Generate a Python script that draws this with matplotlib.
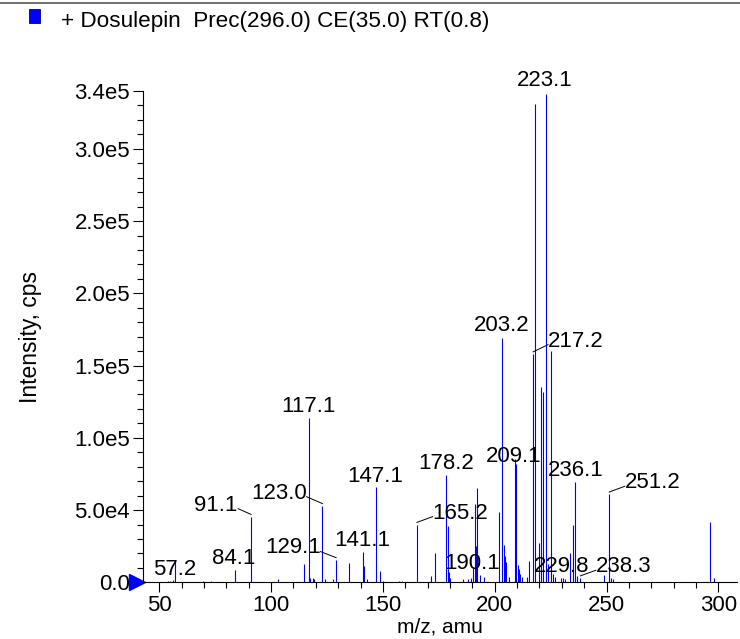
import numpy as np
import matplotlib
matplotlib.use("Agg")
import matplotlib.pyplot as plt
from matplotlib.patches import Rectangle
from matplotlib.lines import Line2D

plt.rcParams['font.family'] = ['Liberation Sans', 'DejaVu Sans']

# MS/MS spectrum of dosulepin, peaks (m/z, cps)
mz = [54.0, 55.0, 56.0, 57.2, 69.7, 73.0, 84.1, 91.1, 103.1,
      114.9, 117.1, 117.6, 118.7, 119.3, 123.0, 124.1, 127.9, 129.1,
      134.7, 141.1, 141.7, 143.0, 147.1, 148.6, 150.2, 157.1, 158.6,
      165.2, 171.7, 173.2, 178.2, 179.0, 179.6, 180.2, 186.0, 188.0,
      189.6, 190.1, 191.0, 191.5, 192.0, 193.5, 195.0,
      202.1, 203.2, 204.1, 204.6, 205.1, 206.5, 209.1, 209.7,
      210.6, 211.0, 211.5, 212.0, 214.5, 215.5, 217.2, 218.1, 219.6,
      220.9, 221.7, 223.1, 224.0, 225.1, 226.0, 227.0, 229.8, 230.5,
      231.5, 233.6, 235.0, 236.1, 237.0, 238.3, 249.1, 251.2, 252.0,
      253.0, 296.1, 297.9]
inten = [1.0e3, 1.2e3, 1.5e3, 1.44e4, 1.0e3, 1.0e3, 8.4e3, 4.55e4, 2.0e3,
         1.3e4, 1.14e5, 3.0e3, 3.0e3, 2.5e3, 5.3e4, 2.0e3, 2.0e3, 1.56e4,
         1.37e4, 2.11e4, 1.1e4, 2.0e3, 6.58e4, 8.0e3, 1.0e3, 1.0e3, 1.0e3,
         4.0e4, 4.7e3, 2.0e4, 7.43e4, 3.9e4, 7.0e3, 3.0e3, 2.0e3, 2.0e3,
         3.0e3, 1.0e4, 5.4e4, 2.5e4, 6.5e4, 5.0e3, 4.0e3,
         4.9e4, 1.69e5, 2.6e4, 1.8e4, 1.4e4, 4.0e3, 8.54e4, 8.17e4,
         1.2e4, 9.0e3, 6.0e3, 4.0e3, 4.0e3, 1.5e4, 1.58e5, 3.31e5, 2.7e4,
         1.35e5, 1.32e5, 3.38e5, 1.3e4, 1.6e5, 6.0e3, 4.0e3, 3.0e3, 3.0e3,
         2.0e3, 2.0e4, 3.98e4, 6.93e4, 4.7e3, 3.0e3, 5.0e3, 6.1e4, 3.0e3,
         2.0e3, 4.17e4, 3.0e3]

# labelled peaks: text, peak m/z, peak height
lab_text = ['57.2', '84.1', '91.1', '117.1', '123.0', '129.1', '141.1', '147.1',
            '165.2', '178.2', '190.1', '203.2', '209.1', '217.2', '223.1',
            '229.8', '236.1', '238.3', '251.2']
lab_mz = [57.2, 84.1, 91.1, 117.1, 123.0, 129.1, 141.1, 147.1,
          165.2, 178.2, 190.1, 203.2, 209.1, 217.2, 223.1,
          229.8, 236.1, 238.3, 251.2]
lab_int = [1.44e4, 8.4e3, 4.55e4, 1.14e5, 5.3e4, 1.56e4, 2.11e4, 6.58e4,
           4.0e4, 7.43e4, 1.0e4, 1.69e5, 8.54e4, 1.58e5, 3.38e5,
           3.0e3, 6.93e4, 3.0e3, 6.1e4]
# where the label text sits (data coords) and whether a leader line is drawn
lab_x = [56.7, 83.45, 75.4, 116.7, 103.5, 109.8, 140.9, 146.5,
         184.6, 178.2, 190.0, 203.1, 208.7, 236.2, 222.6,
         229.8, 236.1, 257.6, 270.5]
lab_y = [8.9e3, 1.64e4, 5.35e4, 1.22e5, 6.18e4, 2.38e4, 2.93e4, 7.36e4,
         4.8e4, 8.26e4, 1.34e4, 1.78e5, 8.7e4, 1.67e5, 3.47e5,
         1.09e4, 7.77e4, 1.09e4, 6.9e4]
leader = [False, False, True, False, True, True, False, False,
          True, False, False, False, False, True, False,
          False, False, True, True]

fig = plt.figure(figsize=(7.4, 6.39), dpi=100)
ax = fig.add_axes([0.1928, 0.0886, 0.8027, 0.769])

ax.vlines(mz, 0, inten, color='#0000ff', linewidth=0.8)

ax.set_xlim(42.6, 308.2)
ax.set_ylim(0, 3.4e5)

ax.set_xticks(np.arange(50, 301, 50))
ax.set_xticks(np.arange(50, 310, 10), minor=True)
yt = [0, 5e4, 1e5, 1.5e5, 2e5, 2.5e5, 3e5, 3.4e5]
ax.set_yticks(yt)
ax.set_yticklabels(['0.0', '5.0e4', '1.0e5', '1.5e5', '2.0e5', '2.5e5', '3.0e5', '3.4e5'])
ax.set_yticks(np.arange(0, 3.41e5, 1e4), minor=True)
ax.tick_params(axis='both', which='major', direction='out', length=7, width=0.8,
               labelsize=16, pad=2)
ax.tick_params(axis='both', which='minor', direction='out', length=4, width=0.8)
ax.spines['top'].set_visible(False)
ax.spines['right'].set_visible(False)

ax.set_xlabel('m/z, amu', fontsize=15, labelpad=1)
ax.set_ylabel('Intensity, cps', fontsize=16.5, labelpad=23)

for i in range(len(lab_text)):
    ax.text(lab_x[i], lab_y[i], lab_text[i], fontsize=16, ha='center', va='center',
            clip_on=False)
    if leader[i]:
        # short leader from the near edge of the label to the peak top
        if lab_x[i] < lab_mz[i]:
            x0 = lab_x[i] + 2.6 * len(lab_text[i]) * 0.95
        else:
            x0 = lab_x[i] - 2.6 * len(lab_text[i]) * 0.95
        ax.plot([x0, lab_mz[i]], [lab_y[i] - 2.5e3, lab_int[i] + 1.5e3],
                color='black', linewidth=0.7)

# blue marker at the zero level on the left
ax.plot([-0.009], [0], marker='>', markersize=11, color='#0000ff',
        transform=ax.get_yaxis_transform(), clip_on=False)

# header line, legend box and title text
fig.add_artist(Line2D([0, 1], [0.996, 0.996], color='#555555', linewidth=1.2))
fig.add_artist(Rectangle((29 / 740, 1 - 23 / 639), 11 / 740, 14 / 639,
                         facecolor='#0000ff', edgecolor='#000080', linewidth=0.6))
fig.text(61 / 740, 1 - 22 / 639, '+ Dosulepin  Prec(296.0) CE(35.0) RT(0.8)',
         fontsize=16.2, va='center', ha='left')

fig.savefig('out.png', dpi=100)
